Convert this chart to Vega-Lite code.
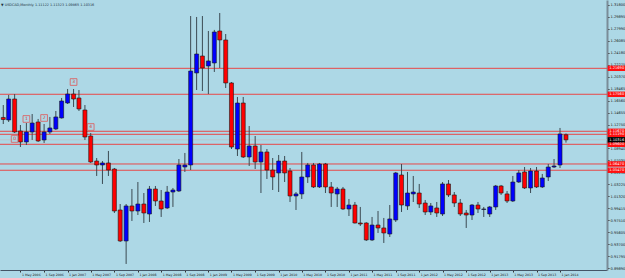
{
  "$schema": "https://vega.github.io/schema/vega-lite/v6.json",
  "width": 607,
  "height": 270,
  "autosize": {"type": "none"},
  "padding": {"left": 0, "top": 0, "right": 18, "bottom": 8},
  "background": "#ADD8E6",
  "config": {
    "view": {"stroke": null},
    "font": "DejaVu Sans",
    "axis": {"title": null, "grid": false, "labelColor": "#1a1a1a", "tickSize": 2, "tickColor": "#333333", "labelOverlap": false, "labelFlush": false, "labelBound": false},
    "axisX": {"labelAlign": "left", "labelFontSize": 3.2, "labelPadding": 0.5, "labelOffset": 1, "domainColor": "#445566", "domainWidth": 1},
    "axisY": {"labelFontSize": 3.6, "labelPadding": 1, "domainColor": "#7a8c98", "domainWidth": 2}
  },
  "title": {"text": "▼ USDCAD,Monthly  1.11122 1.11323 1.09865 1.10316", "anchor": "start", "fontSize": 3.4, "fontWeight": "normal", "color": "#203040", "offset": -6, "frame": "group", "dx": 1},
  "datasets": {
    "candles": [
      {"d": "2006-02-01", "o": 1.1387, "h": 1.1585, "l": 1.1283, "c": 1.1355},
      {"d": "2006-03-01", "o": 1.1347, "h": 1.1745, "l": 1.1315, "c": 1.1681},
      {"d": "2006-04-01", "o": 1.1681, "h": 1.1760, "l": 1.1140, "c": 1.1156},
      {"d": "2006-05-01", "o": 1.1172, "h": 1.1267, "l": 1.0917, "c": 1.0997},
      {"d": "2006-06-01", "o": 1.0997, "h": 1.1299, "l": 1.0949, "c": 1.1156},
      {"d": "2006-07-01", "o": 1.1156, "h": 1.1442, "l": 1.1029, "c": 1.1299},
      {"d": "2006-08-01", "o": 1.1315, "h": 1.1363, "l": 1.0997, "c": 1.1013},
      {"d": "2006-09-01", "o": 1.1029, "h": 1.1283, "l": 1.0981, "c": 1.1156},
      {"d": "2006-10-01", "o": 1.1156, "h": 1.1395, "l": 1.1124, "c": 1.1220},
      {"d": "2006-11-01", "o": 1.1204, "h": 1.1490, "l": 1.1188, "c": 1.1395},
      {"d": "2006-12-01", "o": 1.1379, "h": 1.1697, "l": 1.1370, "c": 1.1649},
      {"d": "2007-01-01", "o": 1.1617, "h": 1.1840, "l": 1.1601, "c": 1.1760},
      {"d": "2007-02-01", "o": 1.1760, "h": 1.1840, "l": 1.1554, "c": 1.1681},
      {"d": "2007-03-01", "o": 1.1697, "h": 1.1824, "l": 1.1490, "c": 1.1522},
      {"d": "2007-04-01", "o": 1.1506, "h": 1.1585, "l": 1.1029, "c": 1.1076},
      {"d": "2007-05-01", "o": 1.1092, "h": 1.1140, "l": 1.0663, "c": 1.0679},
      {"d": "2007-06-01", "o": 1.0694, "h": 1.0742, "l": 1.0456, "c": 1.0631},
      {"d": "2007-07-01", "o": 1.0631, "h": 1.0694, "l": 1.0329, "c": 1.0663},
      {"d": "2007-08-01", "o": 1.0663, "h": 1.0854, "l": 1.0456, "c": 1.0551},
      {"d": "2007-09-01", "o": 1.0567, "h": 1.0583, "l": 0.9867, "c": 0.9899},
      {"d": "2007-10-01", "o": 0.9915, "h": 1.0010, "l": 0.9406, "c": 0.9422},
      {"d": "2007-11-01", "o": 0.9422, "h": 1.0010, "l": 0.9056, "c": 0.9979},
      {"d": "2007-12-01", "o": 0.9979, "h": 1.0249, "l": 0.9740, "c": 0.9899},
      {"d": "2008-01-01", "o": 0.9899, "h": 1.0360, "l": 0.9835, "c": 1.0010},
      {"d": "2008-02-01", "o": 1.0010, "h": 1.0185, "l": 0.9708, "c": 0.9867},
      {"d": "2008-03-01", "o": 0.9851, "h": 1.0297, "l": 0.9724, "c": 1.0249},
      {"d": "2008-04-01", "o": 1.0249, "h": 1.0297, "l": 0.9979, "c": 1.0058},
      {"d": "2008-05-01", "o": 1.0058, "h": 1.0233, "l": 0.9804, "c": 0.9931},
      {"d": "2008-06-01", "o": 0.9947, "h": 1.0297, "l": 0.9931, "c": 1.0201},
      {"d": "2008-07-01", "o": 1.0201, "h": 1.0265, "l": 0.9963, "c": 1.0233},
      {"d": "2008-08-01", "o": 1.0217, "h": 1.0726, "l": 1.0201, "c": 1.0631},
      {"d": "2008-09-01", "o": 1.0599, "h": 1.0822, "l": 1.0520, "c": 1.0631},
      {"d": "2008-10-01", "o": 1.0631, "h": 1.3001, "l": 1.0551, "c": 1.2126},
      {"d": "2008-11-01", "o": 1.2095, "h": 1.2986, "l": 1.1824, "c": 1.2397},
      {"d": "2008-12-01", "o": 1.2365, "h": 1.3001, "l": 1.1808, "c": 1.2174},
      {"d": "2009-01-01", "o": 1.2206, "h": 1.2763, "l": 1.1760, "c": 1.2286},
      {"d": "2009-02-01", "o": 1.2254, "h": 1.2780, "l": 1.2111, "c": 1.2747},
      {"d": "2009-03-01", "o": 1.2763, "h": 1.3049, "l": 1.2174, "c": 1.2620},
      {"d": "2009-04-01", "o": 1.2620, "h": 1.2715, "l": 1.1856, "c": 1.1936},
      {"d": "2009-05-01", "o": 1.1936, "h": 1.1950, "l": 1.0885, "c": 1.0917},
      {"d": "2009-06-01", "o": 1.0885, "h": 1.1713, "l": 1.0774, "c": 1.1617},
      {"d": "2009-07-01", "o": 1.1617, "h": 1.1713, "l": 1.0742, "c": 1.0758},
      {"d": "2009-08-01", "o": 1.0758, "h": 1.1251, "l": 1.0615, "c": 1.0933},
      {"d": "2009-09-01", "o": 1.0933, "h": 1.1092, "l": 1.0567, "c": 1.0679},
      {"d": "2009-10-01", "o": 1.0679, "h": 1.0949, "l": 1.0185, "c": 1.0838},
      {"d": "2009-11-01", "o": 1.0838, "h": 1.0885, "l": 1.0408, "c": 1.0551},
      {"d": "2009-12-01", "o": 1.0551, "h": 1.0742, "l": 1.0233, "c": 1.0440},
      {"d": "2010-01-01", "o": 1.0504, "h": 1.0790, "l": 1.0201, "c": 1.0694},
      {"d": "2010-02-01", "o": 1.0694, "h": 1.0774, "l": 1.0360, "c": 1.0504},
      {"d": "2010-03-01", "o": 1.0535, "h": 1.0583, "l": 1.0042, "c": 1.0138},
      {"d": "2010-04-01", "o": 1.0138, "h": 1.0201, "l": 0.9915, "c": 1.0170},
      {"d": "2010-05-01", "o": 1.0170, "h": 1.0838, "l": 1.0090, "c": 1.0440},
      {"d": "2010-06-01", "o": 1.0440, "h": 1.0663, "l": 1.0345, "c": 1.0631},
      {"d": "2010-07-01", "o": 1.0631, "h": 1.0663, "l": 1.0265, "c": 1.0281},
      {"d": "2010-08-01", "o": 1.0281, "h": 1.0663, "l": 1.0265, "c": 1.0647},
      {"d": "2010-09-01", "o": 1.0647, "h": 1.0663, "l": 1.0185, "c": 1.0281},
      {"d": "2010-10-01", "o": 1.0281, "h": 1.0360, "l": 0.9963, "c": 1.0185},
      {"d": "2010-11-01", "o": 1.0170, "h": 1.0281, "l": 0.9963, "c": 1.0249},
      {"d": "2010-12-01", "o": 1.0249, "h": 1.0281, "l": 0.9915, "c": 0.9931},
      {"d": "2011-01-01", "o": 0.9931, "h": 1.0090, "l": 0.9819, "c": 0.9994},
      {"d": "2011-02-01", "o": 0.9994, "h": 1.0042, "l": 0.9700, "c": 0.9708},
      {"d": "2011-03-01", "o": 0.9708, "h": 0.9963, "l": 0.9660, "c": 0.9692},
      {"d": "2011-04-01", "o": 0.9708, "h": 0.9720, "l": 0.9422, "c": 0.9438},
      {"d": "2011-05-01", "o": 0.9438, "h": 0.9804, "l": 0.9422, "c": 0.9676},
      {"d": "2011-06-01", "o": 0.9676, "h": 0.9899, "l": 0.9549, "c": 0.9629},
      {"d": "2011-07-01", "o": 0.9629, "h": 0.9788, "l": 0.9390, "c": 0.9549},
      {"d": "2011-08-01", "o": 0.9533, "h": 0.9994, "l": 0.9485, "c": 0.9772},
      {"d": "2011-09-01", "o": 0.9756, "h": 1.0520, "l": 0.9724, "c": 1.0504},
      {"d": "2011-10-01", "o": 1.0472, "h": 1.0647, "l": 0.9883, "c": 0.9994},
      {"d": "2011-11-01", "o": 0.9979, "h": 1.0520, "l": 0.9915, "c": 1.0185},
      {"d": "2011-12-01", "o": 1.0170, "h": 1.0456, "l": 1.0042, "c": 1.0201},
      {"d": "2012-01-01", "o": 1.0185, "h": 1.0329, "l": 0.9947, "c": 1.0010},
      {"d": "2012-02-01", "o": 1.0026, "h": 1.0074, "l": 0.9835, "c": 0.9883},
      {"d": "2012-03-01", "o": 0.9883, "h": 1.0026, "l": 0.9835, "c": 0.9979},
      {"d": "2012-04-01", "o": 0.9947, "h": 1.0042, "l": 0.9804, "c": 0.9867},
      {"d": "2012-05-01", "o": 0.9851, "h": 1.0360, "l": 0.9819, "c": 1.0329},
      {"d": "2012-06-01", "o": 1.0329, "h": 1.0392, "l": 1.0122, "c": 1.0154},
      {"d": "2012-07-01", "o": 1.0154, "h": 1.0201, "l": 0.9963, "c": 1.0026},
      {"d": "2012-08-01", "o": 1.0026, "h": 1.0090, "l": 0.9819, "c": 0.9851},
      {"d": "2012-09-01", "o": 0.9867, "h": 0.9915, "l": 0.9629, "c": 0.9835},
      {"d": "2012-10-01", "o": 0.9835, "h": 1.0010, "l": 0.9756, "c": 0.9994},
      {"d": "2012-11-01", "o": 0.9994, "h": 1.0042, "l": 0.9867, "c": 0.9931},
      {"d": "2012-12-01", "o": 0.9923, "h": 0.9963, "l": 0.9804, "c": 0.9931},
      {"d": "2013-01-01", "o": 0.9851, "h": 0.9979, "l": 0.9804, "c": 0.9963},
      {"d": "2013-02-01", "o": 0.9963, "h": 1.0313, "l": 0.9915, "c": 1.0297},
      {"d": "2013-03-01", "o": 1.0297, "h": 1.0313, "l": 1.0154, "c": 1.0185},
      {"d": "2013-04-01", "o": 1.0170, "h": 1.0217, "l": 1.0026, "c": 1.0058},
      {"d": "2013-05-01", "o": 1.0058, "h": 1.0456, "l": 1.0042, "c": 1.0360},
      {"d": "2013-06-01", "o": 1.0360, "h": 1.0551, "l": 1.0345, "c": 1.0504},
      {"d": "2013-07-01", "o": 1.0520, "h": 1.0599, "l": 1.0249, "c": 1.0265},
      {"d": "2013-08-01", "o": 1.0265, "h": 1.0583, "l": 1.0185, "c": 1.0535},
      {"d": "2013-09-01", "o": 1.0535, "h": 1.0599, "l": 1.0265, "c": 1.0281},
      {"d": "2013-10-01", "o": 1.0281, "h": 1.0488, "l": 1.0265, "c": 1.0424},
      {"d": "2013-11-01", "o": 1.0440, "h": 1.0647, "l": 1.0376, "c": 1.0599},
      {"d": "2013-12-01", "o": 1.0599, "h": 1.0726, "l": 1.0583, "c": 1.0615},
      {"d": "2014-01-01", "o": 1.0631, "h": 1.1220, "l": 1.0583, "c": 1.1124},
      {"d": "2014-02-01", "o": 1.11122, "h": 1.11323, "l": 1.09865, "c": 1.10316}
    ],
    "levels": [
      {"p": 1.21690, "t": "1.21690"},
      {"p": 1.17560, "t": "1.17560"},
      {"p": 1.11670, "t": "1.11670"},
      {"p": 1.11190, "t": "1.11190"},
      {"p": 1.09600, "t": "1.09600"},
      {"p": 1.06470, "t": "1.06470"},
      {"p": 1.05470, "t": "1.05470"}
    ],
    "current": [{"p": 1.10316, "t": "1.10316"}],
    "waves": [
      {"d": "2006-04-01", "p": 1.1045, "t": "0"},
      {"d": "2006-06-01", "p": 1.1363, "t": "1"},
      {"d": "2006-09-01", "p": 1.1379, "t": "2"},
      {"d": "2007-02-01", "p": 1.1951, "t": "3"},
      {"d": "2007-05-01", "p": 1.1235, "t": "4"}
    ]
  },
  "layer": [
    {
      "data": {"name": "levels"},
      "mark": {"type": "rule", "color": "#E84848", "strokeWidth": 1},
      "encoding": {
        "y": {"field": "p", "type": "quantitative", "scale": {"domain": [0.896, 1.3256], "nice": false, "zero": false},
          "axis": {"orient": "right", "labelExpr": "format(datum.value, '.5f')", "values": [1.318, 1.29895, 1.2799, 1.26085, 1.2418, 1.22275, 1.2037, 1.18465, 1.1656, 1.14655, 1.1275, 1.10845, 1.0894, 1.07035, 1.0513, 1.03225, 1.0132, 0.99415, 0.9751, 0.95605, 0.937, 0.91795, 0.8989]}}
      }
    },
    {
      "data": {"name": "current"},
      "mark": {"type": "rule", "color": "#BCC6CC", "strokeWidth": 1},
      "encoding": {
        "y": {"field": "p", "type": "quantitative", "scale": {"domain": [0.896, 1.3256], "nice": false, "zero": false},
          "axis": {"orient": "right", "labelExpr": "format(datum.value, '.5f')", "values": [1.318, 1.29895, 1.2799, 1.26085, 1.2418, 1.22275, 1.2037, 1.18465, 1.1656, 1.14655, 1.1275, 1.10845, 1.0894, 1.07035, 1.0513, 1.03225, 1.0132, 0.99415, 0.9751, 0.95605, 0.937, 0.91795, 0.8989]}}
      }
    },
    {
      "data": {"name": "candles"},
      "mark": {"type": "rule", "color": "#3c4a52", "strokeWidth": 1},
      "encoding": {
        "x": {"field": "d", "type": "temporal",
          "scale": {"type": "utc", "nice": false, "padding": 0, "domain": [{"year": 2006, "month": 1, "date": 15, "utc": true}, {"year": 2014, "month": 9, "date": 2, "utc": true}]},
          "axis": {"orient": "bottom", "labelExpr": "utcFormat(datum.value, '%-d %b %Y')", "values": [
              {"year": 2006, "month": 1, "date": 1, "utc": true}, {"year": 2006, "month": 5, "date": 1, "utc": true}, {"year": 2006, "month": 9, "date": 1, "utc": true},
              {"year": 2007, "month": 1, "date": 1, "utc": true}, {"year": 2007, "month": 5, "date": 1, "utc": true}, {"year": 2007, "month": 9, "date": 1, "utc": true},
              {"year": 2008, "month": 1, "date": 1, "utc": true}, {"year": 2008, "month": 5, "date": 1, "utc": true}, {"year": 2008, "month": 9, "date": 1, "utc": true},
              {"year": 2009, "month": 1, "date": 1, "utc": true}, {"year": 2009, "month": 5, "date": 1, "utc": true}, {"year": 2009, "month": 9, "date": 1, "utc": true},
              {"year": 2010, "month": 1, "date": 1, "utc": true}, {"year": 2010, "month": 5, "date": 1, "utc": true}, {"year": 2010, "month": 9, "date": 1, "utc": true},
              {"year": 2011, "month": 1, "date": 1, "utc": true}, {"year": 2011, "month": 5, "date": 1, "utc": true}, {"year": 2011, "month": 9, "date": 1, "utc": true},
              {"year": 2012, "month": 1, "date": 1, "utc": true}, {"year": 2012, "month": 5, "date": 1, "utc": true}, {"year": 2012, "month": 9, "date": 1, "utc": true},
              {"year": 2013, "month": 1, "date": 1, "utc": true}, {"year": 2013, "month": 5, "date": 1, "utc": true}, {"year": 2013, "month": 9, "date": 1, "utc": true},
              {"year": 2014, "month": 1, "date": 1, "utc": true}]}},
        "y": {"field": "l", "type": "quantitative", "scale": {"domain": [0.896, 1.3256], "nice": false, "zero": false},
          "axis": {"orient": "right", "labelExpr": "format(datum.value, '.5f')", "values": [1.318, 1.29895, 1.2799, 1.26085, 1.2418, 1.22275, 1.2037, 1.18465, 1.1656, 1.14655, 1.1275, 1.10845, 1.0894, 1.07035, 1.0513, 1.03225, 1.0132, 0.99415, 0.9751, 0.95605, 0.937, 0.91795, 0.8989]}},
        "y2": {"field": "h"}
      }
    },
    {
      "data": {"name": "candles"},
      "mark": {"type": "bar", "orient": "vertical", "size": 4, "stroke": "#1a1a1a", "strokeWidth": 0.6},
      "encoding": {
        "x": {"field": "d", "type": "temporal",
          "scale": {"type": "utc", "nice": false, "padding": 0, "domain": [{"year": 2006, "month": 1, "date": 15, "utc": true}, {"year": 2014, "month": 9, "date": 2, "utc": true}]},
          "axis": {"orient": "bottom", "labelExpr": "utcFormat(datum.value, '%-d %b %Y')", "values": [
              {"year": 2006, "month": 1, "date": 1, "utc": true}, {"year": 2006, "month": 5, "date": 1, "utc": true}, {"year": 2006, "month": 9, "date": 1, "utc": true},
              {"year": 2007, "month": 1, "date": 1, "utc": true}, {"year": 2007, "month": 5, "date": 1, "utc": true}, {"year": 2007, "month": 9, "date": 1, "utc": true},
              {"year": 2008, "month": 1, "date": 1, "utc": true}, {"year": 2008, "month": 5, "date": 1, "utc": true}, {"year": 2008, "month": 9, "date": 1, "utc": true},
              {"year": 2009, "month": 1, "date": 1, "utc": true}, {"year": 2009, "month": 5, "date": 1, "utc": true}, {"year": 2009, "month": 9, "date": 1, "utc": true},
              {"year": 2010, "month": 1, "date": 1, "utc": true}, {"year": 2010, "month": 5, "date": 1, "utc": true}, {"year": 2010, "month": 9, "date": 1, "utc": true},
              {"year": 2011, "month": 1, "date": 1, "utc": true}, {"year": 2011, "month": 5, "date": 1, "utc": true}, {"year": 2011, "month": 9, "date": 1, "utc": true},
              {"year": 2012, "month": 1, "date": 1, "utc": true}, {"year": 2012, "month": 5, "date": 1, "utc": true}, {"year": 2012, "month": 9, "date": 1, "utc": true},
              {"year": 2013, "month": 1, "date": 1, "utc": true}, {"year": 2013, "month": 5, "date": 1, "utc": true}, {"year": 2013, "month": 9, "date": 1, "utc": true},
              {"year": 2014, "month": 1, "date": 1, "utc": true}]}},
        "y": {"field": "o", "type": "quantitative", "scale": {"domain": [0.896, 1.3256], "nice": false, "zero": false},
          "axis": {"orient": "right", "labelExpr": "format(datum.value, '.5f')", "values": [1.318, 1.29895, 1.2799, 1.26085, 1.2418, 1.22275, 1.2037, 1.18465, 1.1656, 1.14655, 1.1275, 1.10845, 1.0894, 1.07035, 1.0513, 1.03225, 1.0132, 0.99415, 0.9751, 0.95605, 0.937, 0.91795, 0.8989]}},
        "y2": {"field": "c"},
        "color": {"condition": {"test": "datum.c >= datum.o", "value": "#0000FF"}, "value": "#FF0000"}
      }
    },
    {
      "data": {"name": "waves"},
      "mark": {"type": "point", "shape": "square", "size": 45, "filled": false, "stroke": "#E05858", "strokeWidth": 0.8, "opacity": 1},
      "encoding": {
        "x": {"field": "d", "type": "temporal",
          "scale": {"type": "utc", "nice": false, "padding": 0, "domain": [{"year": 2006, "month": 1, "date": 15, "utc": true}, {"year": 2014, "month": 9, "date": 2, "utc": true}]},
          "axis": {"orient": "bottom", "labelExpr": "utcFormat(datum.value, '%-d %b %Y')", "values": [
              {"year": 2006, "month": 1, "date": 1, "utc": true}, {"year": 2006, "month": 5, "date": 1, "utc": true}, {"year": 2006, "month": 9, "date": 1, "utc": true},
              {"year": 2007, "month": 1, "date": 1, "utc": true}, {"year": 2007, "month": 5, "date": 1, "utc": true}, {"year": 2007, "month": 9, "date": 1, "utc": true},
              {"year": 2008, "month": 1, "date": 1, "utc": true}, {"year": 2008, "month": 5, "date": 1, "utc": true}, {"year": 2008, "month": 9, "date": 1, "utc": true},
              {"year": 2009, "month": 1, "date": 1, "utc": true}, {"year": 2009, "month": 5, "date": 1, "utc": true}, {"year": 2009, "month": 9, "date": 1, "utc": true},
              {"year": 2010, "month": 1, "date": 1, "utc": true}, {"year": 2010, "month": 5, "date": 1, "utc": true}, {"year": 2010, "month": 9, "date": 1, "utc": true},
              {"year": 2011, "month": 1, "date": 1, "utc": true}, {"year": 2011, "month": 5, "date": 1, "utc": true}, {"year": 2011, "month": 9, "date": 1, "utc": true},
              {"year": 2012, "month": 1, "date": 1, "utc": true}, {"year": 2012, "month": 5, "date": 1, "utc": true}, {"year": 2012, "month": 9, "date": 1, "utc": true},
              {"year": 2013, "month": 1, "date": 1, "utc": true}, {"year": 2013, "month": 5, "date": 1, "utc": true}, {"year": 2013, "month": 9, "date": 1, "utc": true},
              {"year": 2014, "month": 1, "date": 1, "utc": true}]}},
        "y": {"field": "p", "type": "quantitative", "scale": {"domain": [0.896, 1.3256], "nice": false, "zero": false},
          "axis": {"orient": "right", "labelExpr": "format(datum.value, '.5f')", "values": [1.318, 1.29895, 1.2799, 1.26085, 1.2418, 1.22275, 1.2037, 1.18465, 1.1656, 1.14655, 1.1275, 1.10845, 1.0894, 1.07035, 1.0513, 1.03225, 1.0132, 0.99415, 0.9751, 0.95605, 0.937, 0.91795, 0.8989]}}
      }
    },
    {
      "data": {"name": "waves"},
      "mark": {"type": "text", "fontSize": 4.5, "color": "#D04040", "align": "center", "baseline": "middle"},
      "encoding": {
        "x": {"field": "d", "type": "temporal",
          "scale": {"type": "utc", "nice": false, "padding": 0, "domain": [{"year": 2006, "month": 1, "date": 15, "utc": true}, {"year": 2014, "month": 9, "date": 2, "utc": true}]},
          "axis": {"orient": "bottom", "labelExpr": "utcFormat(datum.value, '%-d %b %Y')", "values": [
              {"year": 2006, "month": 1, "date": 1, "utc": true}, {"year": 2006, "month": 5, "date": 1, "utc": true}, {"year": 2006, "month": 9, "date": 1, "utc": true},
              {"year": 2007, "month": 1, "date": 1, "utc": true}, {"year": 2007, "month": 5, "date": 1, "utc": true}, {"year": 2007, "month": 9, "date": 1, "utc": true},
              {"year": 2008, "month": 1, "date": 1, "utc": true}, {"year": 2008, "month": 5, "date": 1, "utc": true}, {"year": 2008, "month": 9, "date": 1, "utc": true},
              {"year": 2009, "month": 1, "date": 1, "utc": true}, {"year": 2009, "month": 5, "date": 1, "utc": true}, {"year": 2009, "month": 9, "date": 1, "utc": true},
              {"year": 2010, "month": 1, "date": 1, "utc": true}, {"year": 2010, "month": 5, "date": 1, "utc": true}, {"year": 2010, "month": 9, "date": 1, "utc": true},
              {"year": 2011, "month": 1, "date": 1, "utc": true}, {"year": 2011, "month": 5, "date": 1, "utc": true}, {"year": 2011, "month": 9, "date": 1, "utc": true},
              {"year": 2012, "month": 1, "date": 1, "utc": true}, {"year": 2012, "month": 5, "date": 1, "utc": true}, {"year": 2012, "month": 9, "date": 1, "utc": true},
              {"year": 2013, "month": 1, "date": 1, "utc": true}, {"year": 2013, "month": 5, "date": 1, "utc": true}, {"year": 2013, "month": 9, "date": 1, "utc": true},
              {"year": 2014, "month": 1, "date": 1, "utc": true}]}},
        "y": {"field": "p", "type": "quantitative", "scale": {"domain": [0.896, 1.3256], "nice": false, "zero": false},
          "axis": {"orient": "right", "labelExpr": "format(datum.value, '.5f')", "values": [1.318, 1.29895, 1.2799, 1.26085, 1.2418, 1.22275, 1.2037, 1.18465, 1.1656, 1.14655, 1.1275, 1.10845, 1.0894, 1.07035, 1.0513, 1.03225, 1.0132, 0.99415, 0.9751, 0.95605, 0.937, 0.91795, 0.8989]}},
        "text": {"field": "t"}
      }
    },
    {
      "data": {"name": "levels"},
      "mark": {"type": "point", "shape": "M-1,-0.3L1,-0.3L1,0.3L-1,0.3Z", "size": 324, "filled": true, "color": "#FF1010", "opacity": 1},
      "encoding": {
        "x": {"datum": {"year": 2014, "month": 10, "date": 22, "utc": true}, "type": "temporal",
          "scale": {"type": "utc", "nice": false, "padding": 0, "domain": [{"year": 2006, "month": 1, "date": 15, "utc": true}, {"year": 2014, "month": 9, "date": 2, "utc": true}]},
          "axis": {"orient": "bottom", "labelExpr": "utcFormat(datum.value, '%-d %b %Y')", "values": [
              {"year": 2006, "month": 1, "date": 1, "utc": true}, {"year": 2006, "month": 5, "date": 1, "utc": true}, {"year": 2006, "month": 9, "date": 1, "utc": true},
              {"year": 2007, "month": 1, "date": 1, "utc": true}, {"year": 2007, "month": 5, "date": 1, "utc": true}, {"year": 2007, "month": 9, "date": 1, "utc": true},
              {"year": 2008, "month": 1, "date": 1, "utc": true}, {"year": 2008, "month": 5, "date": 1, "utc": true}, {"year": 2008, "month": 9, "date": 1, "utc": true},
              {"year": 2009, "month": 1, "date": 1, "utc": true}, {"year": 2009, "month": 5, "date": 1, "utc": true}, {"year": 2009, "month": 9, "date": 1, "utc": true},
              {"year": 2010, "month": 1, "date": 1, "utc": true}, {"year": 2010, "month": 5, "date": 1, "utc": true}, {"year": 2010, "month": 9, "date": 1, "utc": true},
              {"year": 2011, "month": 1, "date": 1, "utc": true}, {"year": 2011, "month": 5, "date": 1, "utc": true}, {"year": 2011, "month": 9, "date": 1, "utc": true},
              {"year": 2012, "month": 1, "date": 1, "utc": true}, {"year": 2012, "month": 5, "date": 1, "utc": true}, {"year": 2012, "month": 9, "date": 1, "utc": true},
              {"year": 2013, "month": 1, "date": 1, "utc": true}, {"year": 2013, "month": 5, "date": 1, "utc": true}, {"year": 2013, "month": 9, "date": 1, "utc": true},
              {"year": 2014, "month": 1, "date": 1, "utc": true}]}},
        "y": {"field": "p", "type": "quantitative", "scale": {"domain": [0.896, 1.3256], "nice": false, "zero": false},
          "axis": {"orient": "right", "labelExpr": "format(datum.value, '.5f')", "values": [1.318, 1.29895, 1.2799, 1.26085, 1.2418, 1.22275, 1.2037, 1.18465, 1.1656, 1.14655, 1.1275, 1.10845, 1.0894, 1.07035, 1.0513, 1.03225, 1.0132, 0.99415, 0.9751, 0.95605, 0.937, 0.91795, 0.8989]}}
      }
    },
    {
      "data": {"name": "current"},
      "mark": {"type": "point", "shape": "M-1,-0.3L1,-0.3L1,0.3L-1,0.3Z", "size": 324, "filled": true, "color": "#000000", "opacity": 1},
      "encoding": {
        "x": {"datum": {"year": 2014, "month": 10, "date": 22, "utc": true}, "type": "temporal",
          "scale": {"type": "utc", "nice": false, "padding": 0, "domain": [{"year": 2006, "month": 1, "date": 15, "utc": true}, {"year": 2014, "month": 9, "date": 2, "utc": true}]},
          "axis": {"orient": "bottom", "labelExpr": "utcFormat(datum.value, '%-d %b %Y')", "values": [
              {"year": 2006, "month": 1, "date": 1, "utc": true}, {"year": 2006, "month": 5, "date": 1, "utc": true}, {"year": 2006, "month": 9, "date": 1, "utc": true},
              {"year": 2007, "month": 1, "date": 1, "utc": true}, {"year": 2007, "month": 5, "date": 1, "utc": true}, {"year": 2007, "month": 9, "date": 1, "utc": true},
              {"year": 2008, "month": 1, "date": 1, "utc": true}, {"year": 2008, "month": 5, "date": 1, "utc": true}, {"year": 2008, "month": 9, "date": 1, "utc": true},
              {"year": 2009, "month": 1, "date": 1, "utc": true}, {"year": 2009, "month": 5, "date": 1, "utc": true}, {"year": 2009, "month": 9, "date": 1, "utc": true},
              {"year": 2010, "month": 1, "date": 1, "utc": true}, {"year": 2010, "month": 5, "date": 1, "utc": true}, {"year": 2010, "month": 9, "date": 1, "utc": true},
              {"year": 2011, "month": 1, "date": 1, "utc": true}, {"year": 2011, "month": 5, "date": 1, "utc": true}, {"year": 2011, "month": 9, "date": 1, "utc": true},
              {"year": 2012, "month": 1, "date": 1, "utc": true}, {"year": 2012, "month": 5, "date": 1, "utc": true}, {"year": 2012, "month": 9, "date": 1, "utc": true},
              {"year": 2013, "month": 1, "date": 1, "utc": true}, {"year": 2013, "month": 5, "date": 1, "utc": true}, {"year": 2013, "month": 9, "date": 1, "utc": true},
              {"year": 2014, "month": 1, "date": 1, "utc": true}]}},
        "y": {"field": "p", "type": "quantitative", "scale": {"domain": [0.896, 1.3256], "nice": false, "zero": false},
          "axis": {"orient": "right", "labelExpr": "format(datum.value, '.5f')", "values": [1.318, 1.29895, 1.2799, 1.26085, 1.2418, 1.22275, 1.2037, 1.18465, 1.1656, 1.14655, 1.1275, 1.10845, 1.0894, 1.07035, 1.0513, 1.03225, 1.0132, 0.99415, 0.9751, 0.95605, 0.937, 0.91795, 0.8989]}}
      }
    },
    {
      "data": {"name": "levels"},
      "mark": {"type": "text", "fontSize": 3.6, "color": "#FFFFFF", "align": "left", "baseline": "middle"},
      "encoding": {
        "x": {"datum": {"year": 2014, "month": 9, "date": 14, "utc": true}, "type": "temporal",
          "scale": {"type": "utc", "nice": false, "padding": 0, "domain": [{"year": 2006, "month": 1, "date": 15, "utc": true}, {"year": 2014, "month": 9, "date": 2, "utc": true}]},
          "axis": {"orient": "bottom", "labelExpr": "utcFormat(datum.value, '%-d %b %Y')", "values": [
              {"year": 2006, "month": 1, "date": 1, "utc": true}, {"year": 2006, "month": 5, "date": 1, "utc": true}, {"year": 2006, "month": 9, "date": 1, "utc": true},
              {"year": 2007, "month": 1, "date": 1, "utc": true}, {"year": 2007, "month": 5, "date": 1, "utc": true}, {"year": 2007, "month": 9, "date": 1, "utc": true},
              {"year": 2008, "month": 1, "date": 1, "utc": true}, {"year": 2008, "month": 5, "date": 1, "utc": true}, {"year": 2008, "month": 9, "date": 1, "utc": true},
              {"year": 2009, "month": 1, "date": 1, "utc": true}, {"year": 2009, "month": 5, "date": 1, "utc": true}, {"year": 2009, "month": 9, "date": 1, "utc": true},
              {"year": 2010, "month": 1, "date": 1, "utc": true}, {"year": 2010, "month": 5, "date": 1, "utc": true}, {"year": 2010, "month": 9, "date": 1, "utc": true},
              {"year": 2011, "month": 1, "date": 1, "utc": true}, {"year": 2011, "month": 5, "date": 1, "utc": true}, {"year": 2011, "month": 9, "date": 1, "utc": true},
              {"year": 2012, "month": 1, "date": 1, "utc": true}, {"year": 2012, "month": 5, "date": 1, "utc": true}, {"year": 2012, "month": 9, "date": 1, "utc": true},
              {"year": 2013, "month": 1, "date": 1, "utc": true}, {"year": 2013, "month": 5, "date": 1, "utc": true}, {"year": 2013, "month": 9, "date": 1, "utc": true},
              {"year": 2014, "month": 1, "date": 1, "utc": true}]}},
        "y": {"field": "p", "type": "quantitative", "scale": {"domain": [0.896, 1.3256], "nice": false, "zero": false},
          "axis": {"orient": "right", "labelExpr": "format(datum.value, '.5f')", "values": [1.318, 1.29895, 1.2799, 1.26085, 1.2418, 1.22275, 1.2037, 1.18465, 1.1656, 1.14655, 1.1275, 1.10845, 1.0894, 1.07035, 1.0513, 1.03225, 1.0132, 0.99415, 0.9751, 0.95605, 0.937, 0.91795, 0.8989]}},
        "text": {"field": "t"}
      }
    },
    {
      "data": {"name": "current"},
      "mark": {"type": "text", "fontSize": 3.6, "color": "#FFFFFF", "align": "left", "baseline": "middle"},
      "encoding": {
        "x": {"datum": {"year": 2014, "month": 9, "date": 14, "utc": true}, "type": "temporal",
          "scale": {"type": "utc", "nice": false, "padding": 0, "domain": [{"year": 2006, "month": 1, "date": 15, "utc": true}, {"year": 2014, "month": 9, "date": 2, "utc": true}]},
          "axis": {"orient": "bottom", "labelExpr": "utcFormat(datum.value, '%-d %b %Y')", "values": [
              {"year": 2006, "month": 1, "date": 1, "utc": true}, {"year": 2006, "month": 5, "date": 1, "utc": true}, {"year": 2006, "month": 9, "date": 1, "utc": true},
              {"year": 2007, "month": 1, "date": 1, "utc": true}, {"year": 2007, "month": 5, "date": 1, "utc": true}, {"year": 2007, "month": 9, "date": 1, "utc": true},
              {"year": 2008, "month": 1, "date": 1, "utc": true}, {"year": 2008, "month": 5, "date": 1, "utc": true}, {"year": 2008, "month": 9, "date": 1, "utc": true},
              {"year": 2009, "month": 1, "date": 1, "utc": true}, {"year": 2009, "month": 5, "date": 1, "utc": true}, {"year": 2009, "month": 9, "date": 1, "utc": true},
              {"year": 2010, "month": 1, "date": 1, "utc": true}, {"year": 2010, "month": 5, "date": 1, "utc": true}, {"year": 2010, "month": 9, "date": 1, "utc": true},
              {"year": 2011, "month": 1, "date": 1, "utc": true}, {"year": 2011, "month": 5, "date": 1, "utc": true}, {"year": 2011, "month": 9, "date": 1, "utc": true},
              {"year": 2012, "month": 1, "date": 1, "utc": true}, {"year": 2012, "month": 5, "date": 1, "utc": true}, {"year": 2012, "month": 9, "date": 1, "utc": true},
              {"year": 2013, "month": 1, "date": 1, "utc": true}, {"year": 2013, "month": 5, "date": 1, "utc": true}, {"year": 2013, "month": 9, "date": 1, "utc": true},
              {"year": 2014, "month": 1, "date": 1, "utc": true}]}},
        "y": {"field": "p", "type": "quantitative", "scale": {"domain": [0.896, 1.3256], "nice": false, "zero": false},
          "axis": {"orient": "right", "labelExpr": "format(datum.value, '.5f')", "values": [1.318, 1.29895, 1.2799, 1.26085, 1.2418, 1.22275, 1.2037, 1.18465, 1.1656, 1.14655, 1.1275, 1.10845, 1.0894, 1.07035, 1.0513, 1.03225, 1.0132, 0.99415, 0.9751, 0.95605, 0.937, 0.91795, 0.8989]}},
        "text": {"field": "t"}
      }
    }
  ]
}
